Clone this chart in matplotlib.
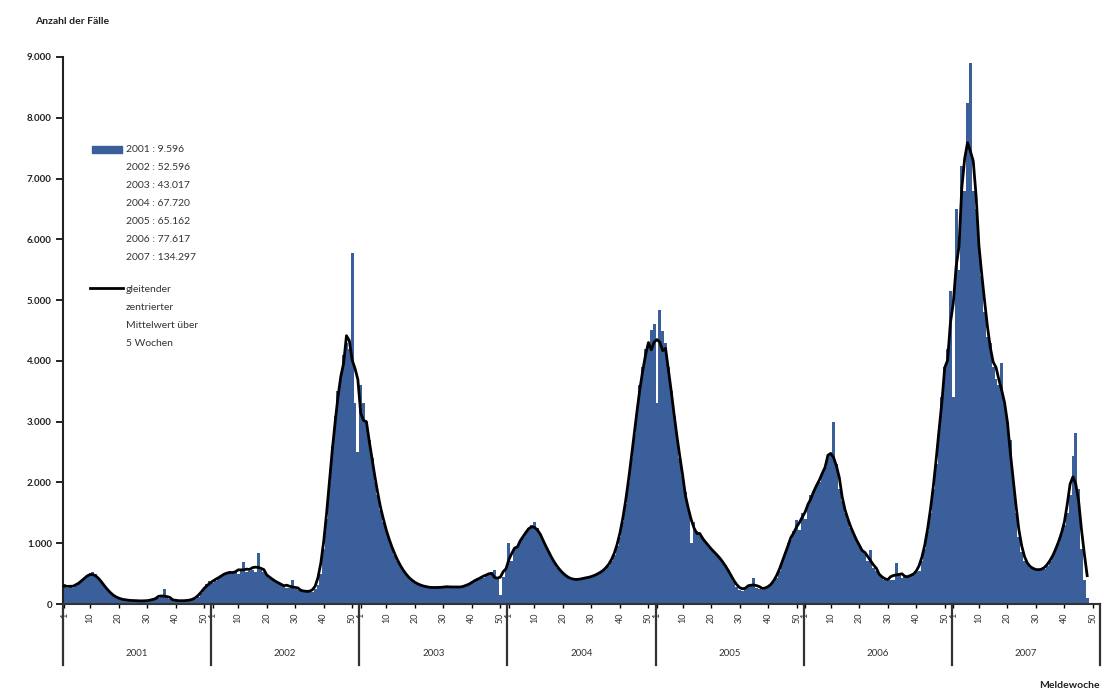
import matplotlib
matplotlib.use("Agg")
import matplotlib.pyplot as plt
import numpy as np
import pandas as pd
from matplotlib.patches import Rectangle
from matplotlib.lines import Line2D

# ---------------- data (weekly reported cases) ----------------
years = ["2001", "2002", "2003", "2004", "2005", "2006", "2007"]
year_totals = ["9.596", "52.596", "43.017", "67.720", "65.162", "77.617", "134.297"]

cases_2001 = [330, 260, 300, 270, 300, 330, 380, 430, 470, 510, 520, 490, 430, 360, 300, 240,
              180, 140, 110, 90, 80, 70, 60, 60, 55, 50, 60, 50, 45, 50, 60, 70, 90, 100, 120, 250,
              100, 80, 60, 55, 50, 60, 50, 55, 60, 70, 90, 120, 180, 260, 330, 380]
cases_2002 = [350, 380, 430, 480, 510, 500, 530, 520, 540, 500, 560, 690, 520, 540, 560, 530,
              840, 560, 520, 480, 430, 400, 380, 350, 320, 300, 270, 260, 395, 240, 230, 240,
              210, 200, 190, 200, 250, 320, 500, 900, 1400, 2000, 2600, 3100, 3500, 3700, 4100,
              4300, 4200, 5770, 3300, 2500]
cases_2003 = [3600, 3300, 3000, 2700, 2400, 2000, 1800, 1550, 1350, 1200, 1050, 920, 800, 700,
              620, 540, 480, 420, 380, 350, 330, 310, 290, 280, 270, 280, 260, 270, 280, 270,
              290, 280, 300, 270, 260, 290, 280, 300, 320, 350, 380, 420, 450, 430, 480, 500,
              520, 560, 450, 150, 450, 600]
cases_2004 = [1000, 700, 900, 950, 1050, 1100, 1200, 1250, 1300, 1350, 1250, 1150, 1050, 950,
              850, 750, 680, 600, 550, 500, 460, 430, 400, 390, 400, 410, 420, 430, 440, 450,
              460, 480, 520, 550, 580, 620, 700, 800, 950, 1100, 1350, 1650, 2000, 2400, 2800,
              3200, 3600, 3900, 4200, 4300, 4510, 4600]
cases_2005 = [3300, 4840, 4500, 4300, 3900, 3500, 3100, 2700, 2400, 2100, 1850, 1550, 1000,
              1350, 1200, 1150, 1100, 1000, 950, 900, 870, 820, 760, 700, 640, 560, 480, 380,
              280, 230, 220, 240, 280, 330, 430, 270, 250, 230, 240, 280, 320, 360, 420, 550,
              700, 850, 1000, 1050, 1200, 1380, 1220, 1500]
cases_2006 = [1400, 1650, 1800, 1850, 1950, 2000, 2150, 2250, 2400, 2450, 2990, 2300, 1900,
              1700, 1500, 1400, 1250, 1150, 1050, 950, 880, 820, 700, 890, 600, 540, 480, 430,
              400, 380, 390, 400, 675, 500, 420, 440, 450, 460, 480, 520, 550, 700, 900, 1200,
              1500, 1900, 2300, 2800, 3400, 3900, 4200, 5150]
cases_2007 = [3400, 6500, 5500, 7200, 6800, 8250, 8900, 6800, 6500, 6000, 5400, 4800, 4400,
              4300, 3900, 3700, 3600, 3970, 3300, 3000, 2700, 2000, 1500, 1100, 850, 700, 650,
              600, 570, 560, 550, 560, 580, 620, 700, 800, 900, 1000, 1150, 1300, 1500, 1800,
              2440, 2820, 1900, 900, 400, 100]

week_ticks = [1, 10, 20, 30, 40, 50]
weeks_per_year = 52

# ---------------- figure ----------------
plt.rcParams['font.family'] = ['Lato', 'DejaVu Sans']
blue = '#3a5f9b'

fig = plt.figure(figsize=(11.04, 6.93), dpi=100)
ax = fig.add_axes([63 / 1104, (693 - 604) / 693, (1100 - 63) / 1104, (604 - 57) / 693])

all_cases = np.array(cases_2001 + cases_2002 + cases_2003 + cases_2004 + cases_2005
                     + cases_2006 + cases_2007, dtype=float)
x = np.arange(len(all_cases))
ax.bar(x, all_cases, width=1.0, color=blue, edgecolor='none', zorder=2)

smooth = pd.Series(all_cases).rolling(5, center=True, min_periods=1).mean()
ax.plot(x, smooth, color='black', lw=2.0, zorder=3)

n_years = len(years)
ax.set_xlim(-0.5, n_years * weeks_per_year - 0.5)
ax.set_ylim(0, 9000)

# y axis
yt = np.arange(0, 9001, 1000)
ax.set_yticks(yt)
ax.set_yticklabels([f"{v:,}".replace(",", ".") for v in yt], fontsize=7, fontweight='bold',
                   color='#222222')
ax.tick_params(axis='y', direction='out', length=5, width=1.2, pad=3)

# x axis ticks
xt, xl = [], []
for k in range(n_years):
    for w in week_ticks:
        xt.append(k * weeks_per_year + w - 1)
        xl.append(str(w))
ax.set_xticks(xt)
ax.set_xticklabels(xl, rotation=90, fontsize=6.5, color='#333333')
ax.tick_params(axis='x', direction='out', length=3, width=1.0, pad=3)

for s in ['top', 'right']:
    ax.spines[s].set_visible(False)
ax.spines['left'].set_linewidth(1.5)
ax.spines['bottom'].set_linewidth(1.5)
ax.spines['left'].set_color('#222222')
ax.spines['bottom'].set_color('#333333')

# year separators and labels
trans = ax.get_xaxis_transform()
for k in range(n_years + 1):
    b = k * weeks_per_year - 0.5
    ax.plot([b, b], [0, -0.112], transform=trans, color='#333333', lw=1.6, clip_on=False)
for k, yr in enumerate(years):
    ax.text(k * weeks_per_year + weeks_per_year / 2 - 0.5, -0.09, yr, transform=trans,
            ha='center', va='center', fontsize=7, color='#333333')

# titles
fig.text(35 / 1104, 1 - 22 / 693, "Anzahl der Fälle", fontsize=7.5, fontweight='bold',
         ha='left', va='center', color='#222222')
fig.text(1100 / 1104, 1 - 686 / 693, "Meldewoche", fontsize=7.5, fontweight='bold',
         ha='right', va='center', color='#222222')

# custom legend
fig.patches.append(Rectangle((92 / 1104, 1 - 153 / 693), 30 / 1104, 7 / 693,
                             transform=fig.transFigure, color=blue))
row_y = [149, 167, 185, 203, 221, 239, 257]
for yr, tot, yy in zip(years, year_totals, row_y):
    fig.text(126 / 1104, 1 - yy / 693, f"{yr} : {tot}", fontsize=7.5, ha='left',
             va='center', color='#333333')
fig.lines.append(Line2D([90 / 1104, 123 / 1104], [1 - 288 / 693, 1 - 288 / 693],
                        transform=fig.transFigure, color='black', lw=2))
for txt, yy in zip(["gleitender", "zentrierter", "Mittelwert über", "5 Wochen"],
                   [289, 307, 325, 343]):
    fig.text(126 / 1104, 1 - yy / 693, txt, fontsize=7.5, ha='left', va='center',
             color='#333333')

fig.savefig("out.png", dpi=100)
